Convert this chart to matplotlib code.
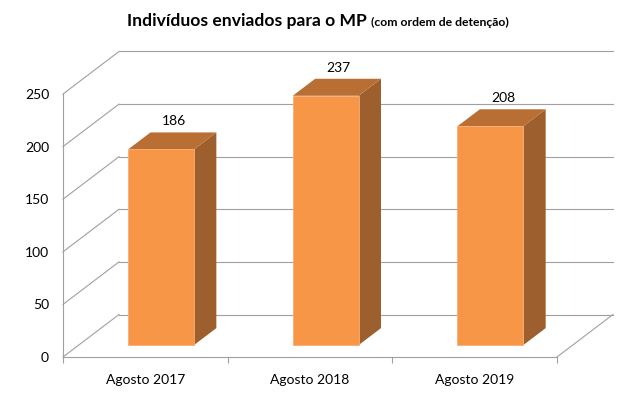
import matplotlib.pyplot as plt
from matplotlib.patches import Polygon

categories = ['Agosto 2017', 'Agosto 2018', 'Agosto 2019']
values = [186, 237, 208]
yticks = [0, 50, 100, 150, 200, 250]

plt.rcParams['font.family'] = ['Lato', 'DejaVu Sans']

W, H = 643, 397
fig = plt.figure(figsize=(W / 100, H / 100), dpi=100)

# front plane: x 63..557 px for 3 categories, y 357 (0) .. 94 (250)
px_cat = (557 - 63) / 3
px_val = (357 - 94) / 250
dx = 56 / px_cat          # depth offset in category units
dy = 42.5 / px_val        # depth offset in value units
left, bottom = 63, 357
right = 557 + 56
top = 94 - 42.5
ax = fig.add_axes([left / W, (H - bottom) / H, (right - left) / W, (bottom - top) / H])
ax.set_xlim(0, (right - left) / px_cat)
ax.set_ylim(0, (bottom - top) / px_val)

grid = '#A0A0A0'
lw = 0.8
n = len(categories)
for v in yticks:
    ax.plot([0, dx], [v, v + dy], color=grid, lw=lw, clip_on=False)
    ax.plot([dx, n + dx], [v + dy, v + dy], color=grid, lw=lw, clip_on=False)
ax.plot([n, n + dx], [0, dy], color=grid, lw=lw, clip_on=False)

front = '#F79646'
side = '#9C5F2D'
topc = '#B96F34'
w = 0.4
d0, d1 = 0.28, 0.68
for i, v in enumerate(values):
    c = i + 0.5
    x0 = c - w / 2 + d0 * dx
    x1 = c + w / 2 + d0 * dx
    y0 = d0 * dy
    ox = (d1 - d0) * dx
    oy = (d1 - d0) * dy
    ax.add_patch(Polygon([(x1, y0), (x1 + ox, y0 + oy), (x1 + ox, y0 + oy + v), (x1, y0 + v)],
                         closed=True, facecolor=side, edgecolor='none', clip_on=False, zorder=3))
    ax.add_patch(Polygon([(x0, y0 + v), (x1, y0 + v), (x1 + ox, y0 + oy + v), (x0 + ox, y0 + oy + v)],
                         closed=True, facecolor=topc, edgecolor='none', clip_on=False, zorder=3))
    ax.add_patch(Polygon([(x0, y0), (x1, y0), (x1, y0 + v), (x0, y0 + v)],
                         closed=True, facecolor=front, edgecolor='#F9AE78', lw=0.6,
                         clip_on=False, zorder=4))
    ax.text(c + (d0 + 0.23) * dx, y0 + v + 26.6, str(v), ha='center', va='center',
            fontsize=10, color='black')

for s in ['top', 'right']:
    ax.spines[s].set_visible(False)
ax.spines['left'].set_bounds(0, 250)
ax.spines['bottom'].set_bounds(0, n)
ax.spines['left'].set_color(grid)
ax.spines['bottom'].set_color(grid)
ax.spines['left'].set_linewidth(lw)
ax.spines['bottom'].set_linewidth(lw)

ax.set_yticks(yticks)
ax.set_yticklabels([str(t) for t in yticks])
ax.tick_params(axis='y', length=0, pad=10, labelsize=10)
ax.set_xticks(range(n + 1))
ax.set_xticklabels([''] * (n + 1))
ax.set_xticks([i + 0.5 for i in range(n)], minor=True)
ax.set_xticklabels(categories, minor=True)
ax.tick_params(axis='x', which='major', length=4, color=grid, width=lw)
ax.tick_params(axis='x', which='minor', length=0, pad=12, labelsize=10)
ax.patch.set_alpha(0)

fig.text(367 / W, 1 - 26 / H, 'Indivíduos enviados para o MP', ha='right', va='baseline',
         fontsize=12.6, fontweight='bold')
fig.text(371 / W, 1 - 26 / H, '(com ordem de detenção)', ha='left', va='baseline',
         fontsize=8.8, fontweight='bold')

fig.savefig('out.png', dpi=100)
